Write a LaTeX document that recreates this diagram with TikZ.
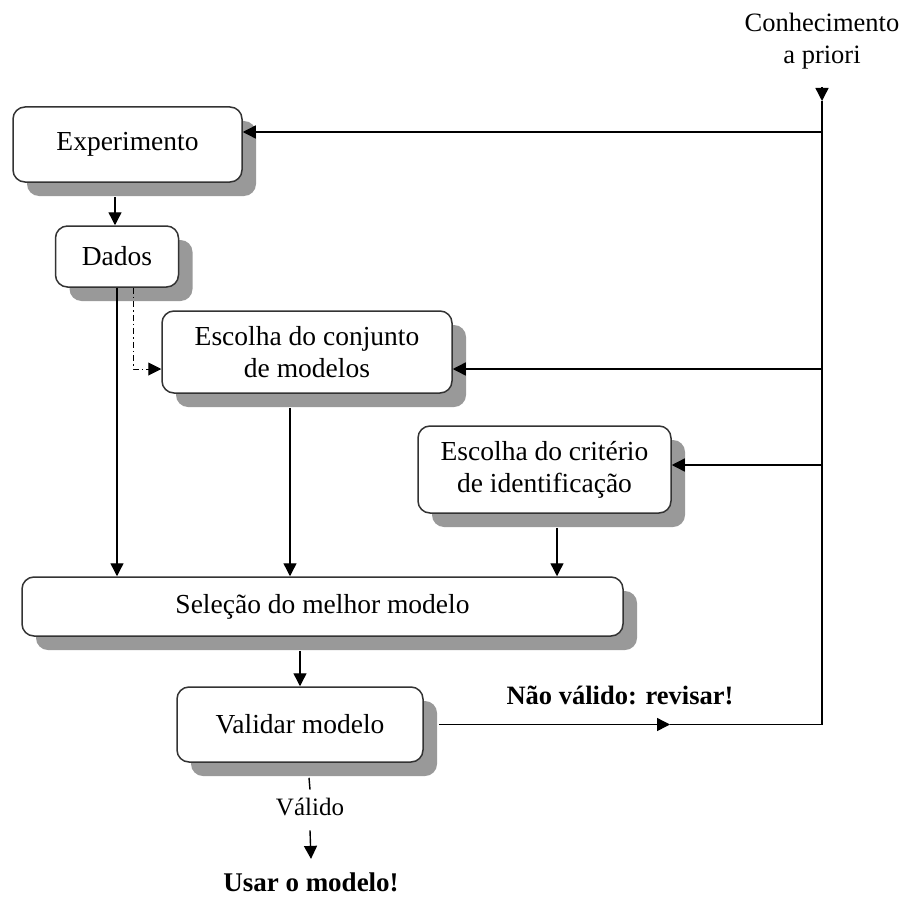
\documentclass[tikz,border=0pt]{standalone}
\usepackage{fontspec}
\setmainfont{Liberation Serif}
\usetikzlibrary{arrows.meta,shadows}

\tikzset{
  caixa/.style={draw=black!80, line width=1.5pt, rounded corners=12pt, fill=white, align=center,
    drop shadow={shadow xshift=14pt, shadow yshift=-14pt, fill=black!40, opacity=1}},
  seta/.style={-{Triangle[length=13pt,width=13pt]}, line width=1.4pt},
  linha/.style={line width=1.4pt},
}

\begin{document}
\begin{tikzpicture}[x=1pt, y=-1pt, every node/.style={font=\fontsize{27.5}{32}\selectfont}]
\useasboundingbox (0,0) rectangle (909,896);
% caixas
\node[caixa, minimum width=229pt, minimum height=75pt] (exper) at (127.5,144.5) {Experimento};
\node[caixa, minimum width=123pt, minimum height=61pt] (dados) at (117,256.5) {Dados};
\node[caixa, minimum width=290pt, minimum height=82pt] (conjunto) at (307,352) {Escolha do conjunto\\de modelos};
\node[caixa, minimum width=253pt, minimum height=87pt] (criterio) at (544.5,469.5) {Escolha do critério\\de identificação};
\node[caixa, minimum width=601pt, minimum height=59pt] (selecao) at (322.5,606.5) {Seleção do melhor modelo};
\node[caixa, minimum width=246pt, minimum height=75pt] (validar) at (300,724.5) {Validar modelo};
% textos soltos
\node[align=center, font=\fontsize{26.5}{32}\selectfont] (conhec) at (822,41) {Conhecimento\\a priori};
\node[font=\bfseries\fontsize{26.5}{30}\selectfont] (naovalido) at (620,695) {Não válido: revisar!};
\node[font=\fontsize{25}{28}\selectfont] (valido) at (310,807) {Válido};
\node[font=\bfseries\fontsize{27}{30}\selectfont] (usar) at (311,882) {Usar o modelo!};
% pontos da linha de realimentacao
\coordinate (ktop) at (822,87);
\coordinate (kpt) at (822,101);
\coordinate (k1) at (822,132);
\coordinate (k2) at (822,369);
\coordinate (k3) at (822,465);
\coordinate (kcanto) at (822,724.5);
\coordinate (kseta) at (670,724.5);
\path ([xshift=-17pt]conjunto.south) coordinate (c1);
\path ([xshift=12.5pt]criterio.south) coordinate (c2);
% conhecimento a priori
\draw[seta] (ktop) -- (kpt);
\draw[linha] (kpt) -- (kcanto);
\draw[seta] (k1) -- (k1 -| exper.east);
\draw[seta] (k2) -- (k2 -| conjunto.east);
\draw[seta] (k3) -- (k3 -| criterio.east);
% fluxo principal
\draw[seta] ([xshift=-12.5pt,yshift=-14pt]exper.south) -- ([xshift=-2pt]dados.north);
\draw[seta] (dados.south) -- (dados.south |- selecao.north);
\draw[seta, line width=1pt, dash pattern=on 6pt off 3pt on 1.5pt off 3pt] ([xshift=16pt]dados.south) |- (k2 -| conjunto.west);
\draw[seta] ([yshift=-14pt]c1) -- (c1 |- selecao.north);
\draw[seta] ([yshift=-14pt]c2) -- (c2 |- selecao.north);
\draw[seta] ([xshift=-22.5pt,yshift=-14pt]selecao.south) -- (validar.north);
% validacao
\draw[seta] ([xshift=15pt]validar.east) -- (kseta);
\draw[linha] (kseta) -- (kcanto);
\draw[linha] ([xshift=9pt,yshift=-15pt]validar.south) -- ([yshift=5pt]valido.north);
\draw[seta] ([yshift=-11pt]valido.south) -- ([yshift=10pt]usar.north);
\end{tikzpicture}
\end{document}
